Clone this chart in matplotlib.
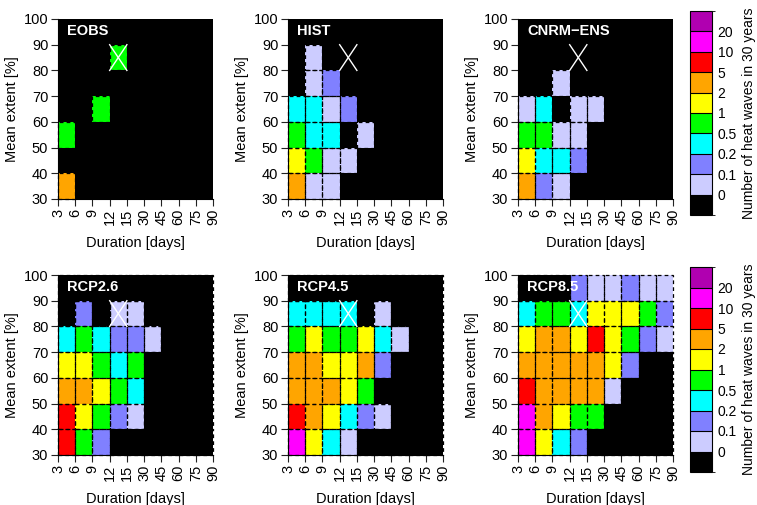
import matplotlib
matplotlib.use("Agg")
import matplotlib.pyplot as plt
import numpy as np
from matplotlib.colors import ListedColormap, BoundaryNorm
from matplotlib.patches import Rectangle

plt.rcParams['font.family'] = ['Liberation Sans', 'DejaVu Sans']

# --- categories ---
duration_labels = ["3", "6", "9", "12", "15", "30", "45", "60", "75", "90"]
extent_edges = [30, 40, 50, 60, 70, 80, 90, 100]

# colour classes (number of heat waves in 30 years)
class_bounds = [-1, 0.001, 0.1, 0.2, 0.5, 1, 2, 5, 10, 20, 40]
class_labels = ["0", "0.1", "0.2", "0.5", "1", "2", "5", "10", "20"]
class_colors = ["#000000", "#CCCCFF", "#8080FF", "#00FFFF", "#00FF00",
                "#FFFF00", "#FFA500", "#FF0000", "#FF00FF", "#B000B0"]

# --- data: rows from extent 30-40 (first) up to 90-100 (last),
#     columns duration classes 3-6, 6-9, 9-12, 12-15, 15-30, 30-45, 45-60, 60-75, 75-90
eobs = [
    [3.5, 0, 0, 0, 0, 0, 0, 0, 0],
    [0, 0, 0, 0, 0, 0, 0, 0, 0],
    [0.75, 0, 0, 0, 0, 0, 0, 0, 0],
    [0, 0, 0.75, 0, 0, 0, 0, 0, 0],
    [0, 0, 0, 0, 0, 0, 0, 0, 0],
    [0, 0, 0, 0.75, 0, 0, 0, 0, 0],
    [0, 0, 0, 0, 0, 0, 0, 0, 0],
]
hist = [
    [3.5, 0.05, 0.05, 0, 0, 0, 0, 0, 0],
    [1.5, 0.75, 0.05, 0.05, 0, 0, 0, 0, 0],
    [0.75, 0.35, 0.35, 0, 0.05, 0, 0, 0, 0],
    [0.35, 0.35, 0.05, 0.15, 0, 0, 0, 0, 0],
    [0, 0.05, 0.15, 0, 0, 0, 0, 0, 0],
    [0, 0.05, 0, 0, 0, 0, 0, 0, 0],
    [0, 0, 0, 0, 0, 0, 0, 0, 0],
]
cnrm = [
    [3.5, 0.15, 0.05, 0, 0, 0, 0, 0, 0],
    [1.5, 0.35, 0.35, 0.15, 0, 0, 0, 0, 0],
    [0.75, 0.75, 0.05, 0.05, 0, 0, 0, 0, 0],
    [0.05, 0.35, 0, 0.05, 0.05, 0, 0, 0, 0],
    [0, 0, 0.05, 0, 0, 0, 0, 0, 0],
    [0, 0, 0, 0, 0, 0, 0, 0, 0],
    [0, 0, 0, 0, 0, 0, 0, 0, 0],
]
rcp26 = [
    [7, 0.75, 0.15, 0, 0, 0, 0, 0, 0],
    [7, 1.5, 0.75, 0.15, 0.05, 0, 0, 0, 0],
    [3.5, 3.5, 1.5, 0.75, 0.35, 0, 0, 0, 0],
    [1.5, 1.5, 0.75, 0.35, 0.75, 0, 0, 0, 0],
    [0.35, 0.75, 0.35, 0.15, 0.15, 0.05, 0, 0, 0],
    [0, 0.15, 0, 0.05, 0.05, 0, 0, 0, 0],
    [0, 0, 0, 0, 0, 0, 0, 0, 0],
]
rcp45 = [
    [15, 1.5, 0.35, 0.05, 0, 0, 0, 0, 0],
    [7, 3.5, 1.5, 0.35, 0.15, 0.05, 0, 0, 0],
    [3.5, 3.5, 3.5, 1.5, 0.75, 0, 0, 0, 0],
    [3.5, 3.5, 1.5, 1.5, 3.5, 0.15, 0, 0, 0],
    [0.75, 1.5, 0.75, 0.75, 1.5, 0.35, 0.05, 0, 0],
    [0.35, 0.35, 0.35, 0.35, 0, 0.05, 0, 0, 0],
    [0, 0, 0, 0, 0, 0, 0, 0, 0],
]
rcp85 = [
    [15, 1.5, 0.35, 0.15, 0, 0, 0, 0, 0],
    [15, 3.5, 1.5, 0.75, 0.75, 0, 0, 0, 0],
    [7, 3.5, 3.5, 3.5, 3.5, 0.05, 0, 0, 0],
    [3.5, 3.5, 3.5, 3.5, 3.5, 1.5, 0.15, 0, 0],
    [1.5, 3.5, 3.5, 1.5, 7, 1.5, 0.75, 0.15, 0.05],
    [0.35, 0.75, 0.75, 0.35, 1.5, 1.5, 1.5, 0.75, 0.15],
    [0, 0, 0, 0.15, 0.05, 0.05, 0.15, 0.05, 0.05],
]

panels = [
    ("EOBS", eobs, False),
    ("HIST", hist, False),
    ("CNRM\u2212ENS", cnrm, False),
    ("RCP2.6", rcp26, True),
    ("RCP4.5", rcp45, True),
    ("RCP8.5", rcp85, True),
]
# marked cell (duration class index, extent lower edge)
mark_col = 3
mark_ext = 80

W, H = 757, 505
fig = plt.figure(figsize=(W / 100, H / 100), dpi=100)

cmap = ListedColormap(class_colors)
norm = BoundaryNorm(class_bounds, cmap.N)

lefts = [58, 288, 518]
tops = [19, 275]
aw, ah = 155, 180
FS = 10.5

for i, (name, data, outline_all) in enumerate(panels):
    r, c = divmod(i, 3)
    ax = fig.add_axes([lefts[c] / W, 1 - (tops[r] + ah) / H, aw / W, ah / H])
    ax.set_facecolor("black")
    arr = np.array(data, dtype=float)
    ncol = arr.shape[1]
    ax.set_xlim(0, ncol)
    ax.set_ylim(extent_edges[0], extent_edges[-1])
    for iy in range(arr.shape[0]):
        for ix in range(ncol):
            v = arr[iy, ix]
            if v <= 0 and not outline_all:
                continue
            y0 = extent_edges[iy]
            hgt = extent_edges[iy + 1] - y0
            ax.add_patch(Rectangle((ix, y0), 1, hgt,
                                   facecolor=cmap(norm(v)), edgecolor="none", zorder=1))
            ax.add_patch(Rectangle((ix, y0), 1, hgt, facecolor="none",
                                   edgecolor="black", linewidth=0.9,
                                   linestyle=(0, (3, 2.5)), zorder=2, clip_on=False))
    # white cross on marked cell
    ax.plot([mark_col, mark_col + 1], [mark_ext, mark_ext + 10], color="white", lw=1.0, zorder=3)
    ax.plot([mark_col, mark_col + 1], [mark_ext + 10, mark_ext], color="white", lw=1.0, zorder=3)

    ax.text(0.06, 0.935, name, transform=ax.transAxes, color="white",
            fontsize=10.5, fontweight="bold", va="center", ha="left", zorder=5)

    ax.set_xticks(np.arange(ncol + 1))
    ax.set_xticklabels(duration_labels, rotation=90, fontsize=FS)
    ax.set_yticks(extent_edges)
    ax.set_yticklabels([str(v) for v in extent_edges], fontsize=FS)
    ax.tick_params(direction="out", length=5, width=0.8, pad=2, color="#222222")
    for s in ["top", "right"]:
        ax.spines[s].set_visible(False)
    for s in ["left", "bottom"]:
        ax.spines[s].set_linewidth(0.8)
    ax.set_xlabel("Duration [days]", fontsize=FS, labelpad=8)
    ax.set_ylabel("Mean extent [%]", fontsize=FS, labelpad=3)

# colorbars
cb_specs = [(690, 11, 22, 204), (690, 267, 22, 205)]
for (x, y, w, h) in cb_specs:
    cax = fig.add_axes([x / W, 1 - (y + h) / H, w / W, h / H])
    sm = matplotlib.cm.ScalarMappable(norm=norm, cmap=cmap)
    cb = fig.colorbar(sm, cax=cax, boundaries=class_bounds, spacing="uniform",
                      drawedges=True)
    cb.set_ticks(class_bounds[1:-1])
    cb.set_ticklabels(class_labels)
    cb.ax.tick_params(length=0, labelsize=10, pad=4)
    cb.outline.set_linewidth(0.8)
    cb.dividers.set_linewidth(0.8)
    fig.text(749 / W, 1 - (y + h / 2) / H, "Number of heat waves in 30 years",
             rotation=90, ha="center", va="center", fontsize=10)

fig.savefig("out.png", dpi=100)
